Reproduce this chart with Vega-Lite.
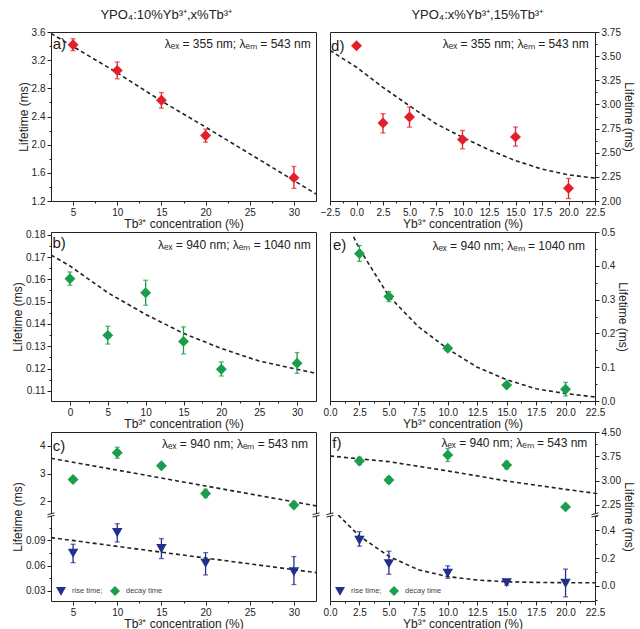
{
"$schema": "https://vega.github.io/schema/vega-lite/v6.json",
"background": "white",
"padding": {"left": 11, "top": 8, "right": 0, "bottom": 0},
"config": {
  "font": "Liberation Sans",
  "view": {"stroke": "#222", "strokeWidth": 1},
  "axis": {"labelFont": "Liberation Sans", "labelFontSize": 10, "labelColor": "#222", "titleFont": "Liberation Sans", "titleFontSize": 12, "titleFontWeight": "normal", "titleColor": "#222", "domainColor": "#222", "tickColor": "#222", "grid": false, "tickSize": 4, "labelPadding": 2, "titlePadding": 1, "labelOverlap": false, "labelFlush": false},
  "title": {"font": "Liberation Sans", "fontSize": 13, "fontWeight": "normal", "color": "#222"},
  "text": {"font": "Liberation Sans", "color": "#222"},
  "legend": {"orient": "bottom-left", "direction": "horizontal", "title": null, "labelFont": "Liberation Sans", "labelFontSize": 7.5, "labelColor": "#444", "symbolSize": 100, "offset": 5, "padding": 0, "columnPadding": 7, "labelOffset": 6, "symbolStrokeWidth": 0}
},
"datasets": {
  "a_pts": [{"x":5,"y":3.42,"lo":3.335,"hi":3.505},{"x":10,"y":3.055,"lo":2.935,"hi":3.175},{"x":15,"y":2.63,"lo":2.52,"hi":2.74},{"x":20,"y":2.13,"lo":2.035,"hi":2.22},{"x":30,"y":1.53,"lo":1.38,"hi":1.69}],
  "a_fit": [{"x":2.5,"y":3.58},{"x":10,"y":3.02},{"x":15,"y":2.62},{"x":20,"y":2.25},{"x":32.5,"y":1.3}],
  "b_pts": [{"x":0,"y":0.1603,"lo":0.1573,"hi":0.1633},{"x":5,"y":0.1349,"lo":0.131,"hi":0.139},{"x":10,"y":0.154,"lo":0.1484,"hi":0.1596},{"x":15,"y":0.1322,"lo":0.1266,"hi":0.1387},{"x":20,"y":0.1197,"lo":0.1167,"hi":0.123},{"x":30,"y":0.1224,"lo":0.1179,"hi":0.1272}],
  "b_fit": [{"x":-2.5,"y":0.1709},{"x":0,"y":0.166},{"x":5,"y":0.154},{"x":10,"y":0.1443},{"x":15,"y":0.1358},{"x":20,"y":0.129},{"x":25,"y":0.1234},{"x":30,"y":0.1197},{"x":32.5,"y":0.1179}],
  "c_dec": [{"x":5,"y":2.78,"lo":2.72,"hi":2.84},{"x":10,"y":3.75,"lo":3.55,"hi":3.95},{"x":15,"y":3.28,"lo":3.18,"hi":3.38},{"x":20,"y":2.28,"lo":2.13,"hi":2.43},{"x":30,"y":1.86,"lo":1.8,"hi":1.92}],
  "c_dec_fit": [{"x":2.5,"y":3.55},{"x":20,"y":2.55},{"x":32.5,"y":1.83}],
  "c_rise": [{"x":5,"y":0.0746,"lo":0.0635,"hi":0.0853,"series":"rise time;"},{"x":10,"y":0.0991,"lo":0.088,"hi":0.1097,"series":"rise time;"},{"x":15,"y":0.0801,"lo":0.0683,"hi":0.092,"series":"rise time;"},{"x":20,"y":0.0628,"lo":0.0489,"hi":0.0754,"series":"rise time;"},{"x":30,"y":0.0525,"lo":0.0375,"hi":0.0707,"series":"rise time;"}],
  "c_rise_fit": [{"x":2.5,"y":0.0932},{"x":32.5,"y":0.0517}],
  "d_pts": [{"x":0,"y":3.607,"lo":3.585,"hi":3.63},{"x":2.5,"y":2.807,"lo":2.705,"hi":2.904},{"x":5,"y":2.869,"lo":2.765,"hi":2.973},{"x":10,"y":2.637,"lo":2.54,"hi":2.73},{"x":15,"y":2.664,"lo":2.568,"hi":2.766},{"x":20,"y":2.132,"lo":2.025,"hi":2.234}],
  "d_fit": [{"x":-2.5,"y":3.559},{"x":0,"y":3.385},{"x":2.5,"y":3.176},{"x":5,"y":2.985},{"x":7.5,"y":2.8},{"x":10,"y":2.66},{"x":12.5,"y":2.53},{"x":15,"y":2.418},{"x":17.5,"y":2.33},{"x":20,"y":2.271},{"x":22.5,"y":2.237}],
  "e_pts": [{"x":2.5,"y":0.436,"lo":0.413,"hi":0.46},{"x":5,"y":0.309,"lo":0.294,"hi":0.324},{"x":10,"y":0.156,"lo":0.148,"hi":0.164},{"x":15,"y":0.047,"lo":0.04,"hi":0.054},{"x":20,"y":0.035,"lo":0.015,"hi":0.055}],
  "e_fit": [{"x":2,"y":0.486},{"x":2.5,"y":0.45},{"x":5,"y":0.31},{"x":7.5,"y":0.22},{"x":10,"y":0.154},{"x":12.5,"y":0.1},{"x":15,"y":0.063},{"x":17.5,"y":0.036},{"x":20,"y":0.022},{"x":22.5,"y":0.012}],
  "f_dec": [{"x":2.5,"y":3.606,"lo":3.49,"hi":3.72},{"x":5,"y":3.02,"lo":2.92,"hi":3.12},{"x":10,"y":3.79,"lo":3.59,"hi":3.99},{"x":15,"y":3.48,"lo":3.36,"hi":3.6},{"x":20,"y":2.19,"lo":2.15,"hi":2.23}],
  "f_dec_fit": [{"x":0,"y":3.76},{"x":5,"y":3.585},{"x":10,"y":3.3},{"x":15,"y":2.99},{"x":20,"y":2.73},{"x":22.5,"y":2.61}],
  "f_rise": [{"x":2.5,"y":0.327,"lo":0.285,"hi":0.39,"series":"rise time;"},{"x":5,"y":0.159,"lo":0.083,"hi":0.249,"series":"rise time;"},{"x":10,"y":0.09,"lo":0.054,"hi":0.144,"series":"rise time;"},{"x":15,"y":0.022,"lo":0.005,"hi":0.045,"series":"rise time;"},{"x":20,"y":0.017,"lo":-0.08,"hi":0.12,"series":"rise time;"}],
  "f_rise_fit": [{"x":0.7,"y":0.51},{"x":2.5,"y":0.358},{"x":5,"y":0.212},{"x":7.5,"y":0.115},{"x":10,"y":0.066},{"x":12.5,"y":0.041},{"x":15,"y":0.029},{"x":17.5,"y":0.024},{"x":20,"y":0.022},{"x":22.5,"y":0.022}]
},
"hconcat": [
 {
  "title": {"text": "YPO₄:10%Yb³⁺,x%Tb³⁺", "anchor": "middle", "offset": 5},
  "spacing": 31, "bounds": "flush",
  "resolve": {"scale": {"color": "independent", "shape": "independent"}, "legend": {"color": "independent", "shape": "independent"}},
  "vconcat": [
   {
    "width": 265, "height": 169,
    "resolve": {"axis": {"x": "independent", "y": "independent"}},
    "layer": [
     {"data": {"name": "a_fit"}, "mark": {"type": "line", "strokeDash": [4, 3], "color": "#222", "strokeWidth": 1.6, "clip": true},
      "encoding": {
       "x": {"field": "x", "type": "quantitative", "scale": {"domain": [2.5, 32.5], "nice": false, "zero": false},
        "axis": {"title": "Tb³⁺ concentration (%)", "format": "d", "values": [5,7.5,10,12.5,15,17.5,20,22.5,25,27.5,30],
         "labelExpr": "abs(datum.value/5 - round(datum.value/5)) > 0.01 ? '' : datum.label",
         "tickSize": {"condition": {"test": "abs(datum.value/5 - round(datum.value/5)) > 0.01", "value": 2}, "value": 4}}},
       "y": {"field": "y", "type": "quantitative", "scale": {"domain": [1.2, 3.6], "nice": false, "zero": false},
        "axis": {"title": "Lifetime (ms)", "format": ".1f", "values": [1.2,1.4,1.6,1.8,2.0,2.2,2.4,2.6,2.8,3.0,3.2,3.4,3.6],
         "labelExpr": "abs((datum.value-1.2)/0.4 - round((datum.value-1.2)/0.4)) > 0.01 ? '' : datum.label",
         "tickSize": {"condition": {"test": "abs((datum.value-1.2)/0.4 - round((datum.value-1.2)/0.4)) > 0.01", "value": 2}, "value": 4}}}
      }},
     {"data": {"name": "a_pts"}, "mark": {"type": "errorbar", "color": "#e3202a", "ticks": true, "size": 5, "thickness": 1.3},
      "encoding": {"x": {"field": "x", "type": "quantitative", "axis": null}, "y": {"field": "lo", "type": "quantitative", "axis": null}, "y2": {"field": "hi"}}},
     {"data": {"name": "a_pts"}, "mark": {"type": "point", "shape": "diamond", "filled": true, "size": 120, "color": "#e3202a", "opacity": 1},
      "encoding": {"x": {"field": "x", "type": "quantitative", "axis": null}, "y": {"field": "y", "type": "quantitative", "axis": null}}},
     {"data": {"values": [{}]}, "mark": {"type": "text", "align": "left", "baseline": "middle", "fontSize": 15},
      "encoding": {"x": {"datum": 2.7, "type": "quantitative", "axis": null}, "y": {"datum": 3.43, "type": "quantitative", "axis": null}, "text": {"value": "a)"}}},
     {"data": {"values": [{}]}, "mark": {"type": "text", "align": "right", "baseline": "middle", "fontSize": 12},
      "encoding": {"x": {"datum": 31.9, "type": "quantitative", "axis": null}, "y": {"datum": 3.43, "type": "quantitative", "axis": null}, "text": {"value": "λₑₓ = 355 nm; λₑₘ = 543 nm"}}}
    ]
   },
   {
    "width": 265, "height": 169,
    "resolve": {"axis": {"x": "independent", "y": "independent"}},
    "layer": [
     {"data": {"name": "b_fit"}, "mark": {"type": "line", "strokeDash": [4, 3], "color": "#222", "strokeWidth": 1.6, "clip": true},
      "encoding": {
       "x": {"field": "x", "type": "quantitative", "scale": {"domain": [-2.5, 32.5], "nice": false, "zero": false},
        "axis": {"title": "Tb³⁺ concentration (%)", "format": "d", "values": [0,2.5,5,7.5,10,12.5,15,17.5,20,22.5,25,27.5,30],
         "labelExpr": "abs(datum.value/5 - round(datum.value/5)) > 0.01 ? '' : datum.label",
         "tickSize": {"condition": {"test": "abs(datum.value/5 - round(datum.value/5)) > 0.01", "value": 2}, "value": 4}}},
       "y": {"field": "y", "type": "quantitative", "scale": {"domain": [0.1055, 0.1812], "nice": false, "zero": false},
        "axis": {"title": "Lifetime (ms)", "format": ".2f", "values": [0.11,0.115,0.12,0.125,0.13,0.135,0.14,0.145,0.15,0.155,0.16,0.165,0.17,0.175,0.18],
         "labelExpr": "abs(datum.value/0.01 - round(datum.value/0.01)) > 0.01 ? '' : datum.label",
         "tickSize": {"condition": {"test": "abs(datum.value/0.01 - round(datum.value/0.01)) > 0.01", "value": 2}, "value": 4}}}
      }},
     {"data": {"name": "b_pts"}, "mark": {"type": "errorbar", "color": "#1b9e4b", "ticks": true, "size": 5, "thickness": 1.3},
      "encoding": {"x": {"field": "x", "type": "quantitative", "axis": null}, "y": {"field": "lo", "type": "quantitative", "axis": null}, "y2": {"field": "hi"}}},
     {"data": {"name": "b_pts"}, "mark": {"type": "point", "shape": "diamond", "filled": true, "size": 120, "color": "#1b9e4b", "opacity": 1},
      "encoding": {"x": {"field": "x", "type": "quantitative", "axis": null}, "y": {"field": "y", "type": "quantitative", "axis": null}}},
     {"data": {"values": [{}]}, "mark": {"type": "text", "align": "left", "baseline": "middle", "fontSize": 15},
      "encoding": {"x": {"datum": -2.3, "type": "quantitative", "axis": null}, "y": {"datum": 0.1762, "type": "quantitative", "axis": null}, "text": {"value": "b)"}}},
     {"data": {"values": [{}]}, "mark": {"type": "text", "align": "right", "baseline": "middle", "fontSize": 12},
      "encoding": {"x": {"datum": 31.8, "type": "quantitative", "axis": null}, "y": {"datum": 0.1755, "type": "quantitative", "axis": null}, "text": {"value": "λₑₓ = 940 nm; λₑₘ = 1040 nm"}}}
    ]
   },
   {
    "spacing": 0, "bounds": "flush",
    "resolve": {"scale": {"color": "independent", "shape": "independent"}, "legend": {"color": "independent", "shape": "independent"}},
    "vconcat": [
     {
      "width": 265, "height": 83,
      "view": {"stroke": null},
      "resolve": {"axis": {"x": "independent", "y": "independent"}},
      "layer": [
       {"data": {"name": "c_dec_fit"}, "mark": {"type": "line", "strokeDash": [4, 3], "color": "#222", "strokeWidth": 1.6, "clip": true},
        "encoding": {
         "x": {"field": "x", "type": "quantitative", "scale": {"domain": [2.5, 32.5], "nice": false, "zero": false},
          "axis": {"orient": "top", "labels": false, "ticks": false, "domain": true, "title": null}},
         "y": {"field": "y", "type": "quantitative", "scale": {"domain": [1.5, 4.5], "nice": false, "zero": false},
          "axis": {"title": "Lifetime (ms)", "titleY": 84.5, "titlePadding": 14.5, "format": "d", "values": [2,2.5,3,3.5,4],
           "labelExpr": "abs(datum.value - round(datum.value)) > 0.01 ? '' : datum.label",
           "tickSize": {"condition": {"test": "abs(datum.value - round(datum.value)) > 0.01", "value": 2}, "value": 4}}}
        }},
       {"data": {"name": "c_dec"}, "mark": {"type": "errorbar", "color": "#1b9e4b", "ticks": true, "size": 5, "thickness": 1.3},
        "encoding": {"x": {"field": "x", "type": "quantitative", "axis": null}, "y": {"field": "lo", "type": "quantitative", "axis": {"orient": "right", "labels": false, "ticks": false, "domain": true, "title": null}}, "y2": {"field": "hi"}}},
       {"data": {"name": "c_dec"}, "mark": {"type": "point", "shape": "diamond", "filled": true, "size": 120, "color": "#1b9e4b", "opacity": 1},
        "encoding": {"x": {"field": "x", "type": "quantitative", "axis": null}, "y": {"field": "y", "type": "quantitative", "axis": null}}},
       {"data": {"values": [{}]}, "mark": {"type": "text", "align": "left", "baseline": "middle", "fontSize": 15},
        "encoding": {"x": {"datum": 2.7, "type": "quantitative", "axis": null}, "y": {"datum": 4.0, "type": "quantitative", "axis": null}, "text": {"value": "c)"}}},
       {"data": {"values": [{}]}, "mark": {"type": "text", "align": "right", "baseline": "middle", "fontSize": 12},
        "encoding": {"x": {"datum": 31.6, "type": "quantitative", "axis": null}, "y": {"datum": 4.08, "type": "quantitative", "axis": null}, "text": {"value": "λₑₓ = 940 nm; λₑₘ = 543 nm"}}}
      ]
     },
     {
      "width": 265, "height": 86,
      "view": {"stroke": null},
      "resolve": {"axis": {"x": "independent", "y": "independent"}},
      "layer": [
       {"data": {"name": "c_rise_fit"}, "mark": {"type": "line", "strokeDash": [4, 3], "color": "#222", "strokeWidth": 1.6, "clip": true},
        "encoding": {
         "x": {"field": "x", "type": "quantitative", "scale": {"domain": [2.5, 32.5], "nice": false, "zero": false},
          "axis": {"title": "Tb³⁺ concentration (%)", "format": "d", "values": [5,7.5,10,12.5,15,17.5,20,22.5,25,27.5,30],
           "labelExpr": "abs(datum.value/5 - round(datum.value/5)) > 0.01 ? '' : datum.label",
           "tickSize": {"condition": {"test": "abs(datum.value/5 - round(datum.value/5)) > 0.01", "value": 2}, "value": 4}}},
         "y": {"field": "y", "type": "quantitative", "scale": {"domain": [0.018, 0.12], "nice": false, "zero": false},
          "axis": {"title": null, "format": ".2f", "values": [0.03,0.045,0.06,0.075,0.09,0.105],
           "labelExpr": "abs(datum.value/0.03 - round(datum.value/0.03)) > 0.01 ? '' : datum.label",
           "tickSize": {"condition": {"test": "abs(datum.value/0.03 - round(datum.value/0.03)) > 0.01", "value": 2}, "value": 4}}}
        }},
       {"data": {"name": "c_rise"}, "mark": {"type": "errorbar", "color": "#22308c", "ticks": true, "size": 5, "thickness": 1.3},
        "encoding": {"x": {"field": "x", "type": "quantitative", "axis": null}, "y": {"field": "lo", "type": "quantitative", "axis": {"orient": "right", "labels": false, "ticks": false, "domain": true, "title": null}}, "y2": {"field": "hi"}}},
       {"data": {"name": "c_rise"}, "mark": {"type": "point", "filled": true, "size": 110, "opacity": 1},
        "encoding": {"x": {"field": "x", "type": "quantitative", "axis": null}, "y": {"field": "y", "type": "quantitative", "axis": null},
         "color": {"field": "series", "type": "nominal", "scale": {"domain": ["rise time;", "decay time"], "range": ["#22308c", "#1b9e4b"]}},
         "shape": {"field": "series", "type": "nominal", "scale": {"domain": ["rise time;", "decay time"], "range": ["triangle-down", "diamond"]}}}},
       {"data": {"values": [{}]}, "mark": {"type": "point", "shape": "M-1,-0.1L1,-0.6L1,0.1L-1,0.6Z", "filled": true, "size": 49, "color": "white", "opacity": 1},
        "encoding": {"x": {"datum": 2.5, "type": "quantitative", "axis": null}, "y": {"datum": 0.12, "type": "quantitative", "axis": null}}},
       {"data": {"values": [{}]}, "mark": {"type": "point", "shape": "M-1,-0.1L1,-0.6L1,0.1L-1,0.6Z", "filled": true, "size": 49, "color": "white", "opacity": 1},
        "encoding": {"x": {"datum": 32.5, "type": "quantitative", "axis": null}, "y": {"datum": 0.12, "type": "quantitative", "axis": null}}},
       {"data": {"values": [{}]}, "mark": {"type": "point", "shape": "M-1,-0.1L1,-0.6M-1,0.6L1,0.1", "filled": false, "size": 49, "color": "#222", "strokeWidth": 1, "opacity": 1},
        "encoding": {"x": {"datum": 2.5, "type": "quantitative", "axis": null}, "y": {"datum": 0.12, "type": "quantitative", "axis": null}}},
       {"data": {"values": [{}]}, "mark": {"type": "point", "shape": "M-1,-0.1L1,-0.6M-1,0.6L1,0.1", "filled": false, "size": 49, "color": "#222", "strokeWidth": 1, "opacity": 1},
        "encoding": {"x": {"datum": 32.5, "type": "quantitative", "axis": null}, "y": {"datum": 0.12, "type": "quantitative", "axis": null}}}
      ]
     }
    ]
   }
  ]
 },
 {
  "title": {"text": "YPO₄:x%Yb³⁺,15%Tb³⁺", "anchor": "middle", "offset": 5},
  "spacing": 31, "bounds": "flush",
  "resolve": {"scale": {"color": "independent", "shape": "independent"}, "legend": {"color": "independent", "shape": "independent"}},
  "vconcat": [
   {
    "width": 265, "height": 169,
    "resolve": {"axis": {"x": "independent", "y": "independent"}},
    "layer": [
     {"data": {"name": "d_fit"}, "mark": {"type": "line", "strokeDash": [4, 3], "color": "#222", "strokeWidth": 1.6, "clip": true},
      "encoding": {
       "x": {"field": "x", "type": "quantitative", "scale": {"domain": [-2.5, 22.5], "nice": false, "zero": false},
        "axis": {"title": "Yb³⁺ concentration (%)", "format": ".1f", "values": [-2.5,-1.25,0,1.25,2.5,3.75,5,6.25,7.5,8.75,10,11.25,12.5,13.75,15,16.25,17.5,18.75,20,21.25,22.5],
         "labelExpr": "abs(datum.value/2.5 - round(datum.value/2.5)) > 0.01 ? '' : datum.label",
         "tickSize": {"condition": {"test": "abs(datum.value/2.5 - round(datum.value/2.5)) > 0.01", "value": 2}, "value": 4}}},
       "y": {"field": "y", "type": "quantitative", "scale": {"domain": [2.0, 3.75], "nice": false, "zero": false},
        "axis": {"orient": "right", "title": "Lifetime (ms)", "format": ".2f", "values": [2,2.125,2.25,2.375,2.5,2.625,2.75,2.875,3,3.125,3.25,3.375,3.5,3.625,3.75],
         "labelExpr": "abs(datum.value/0.25 - round(datum.value/0.25)) > 0.01 ? '' : datum.label",
         "tickSize": {"condition": {"test": "abs(datum.value/0.25 - round(datum.value/0.25)) > 0.01", "value": 2}, "value": 4}}}
      }},
     {"data": {"name": "d_pts"}, "mark": {"type": "errorbar", "color": "#e3202a", "ticks": true, "size": 5, "thickness": 1.3},
      "encoding": {"x": {"field": "x", "type": "quantitative", "axis": null}, "y": {"field": "lo", "type": "quantitative", "axis": null}, "y2": {"field": "hi"}}},
     {"data": {"name": "d_pts"}, "mark": {"type": "point", "shape": "diamond", "filled": true, "size": 120, "color": "#e3202a", "opacity": 1},
      "encoding": {"x": {"field": "x", "type": "quantitative", "axis": null}, "y": {"field": "y", "type": "quantitative", "axis": null}}},
     {"data": {"values": [{}]}, "mark": {"type": "text", "align": "left", "baseline": "middle", "fontSize": 15},
      "encoding": {"x": {"datum": -2.4, "type": "quantitative", "axis": null}, "y": {"datum": 3.61, "type": "quantitative", "axis": null}, "text": {"value": "d)"}}},
     {"data": {"values": [{}]}, "mark": {"type": "text", "align": "right", "baseline": "middle", "fontSize": 12},
      "encoding": {"x": {"datum": 21.9, "type": "quantitative", "axis": null}, "y": {"datum": 3.625, "type": "quantitative", "axis": null}, "text": {"value": "λₑₓ = 355 nm; λₑₘ = 543 nm"}}}
    ]
   },
   {
    "width": 265, "height": 169,
    "resolve": {"axis": {"x": "independent", "y": "independent"}},
    "layer": [
     {"data": {"name": "e_fit"}, "mark": {"type": "line", "strokeDash": [4, 3], "color": "#222", "strokeWidth": 1.6, "clip": true},
      "encoding": {
       "x": {"field": "x", "type": "quantitative", "scale": {"domain": [0, 22.5], "nice": false, "zero": false},
        "axis": {"title": "Yb³⁺ concentration (%)", "format": ".1f", "values": [0,1.25,2.5,3.75,5,6.25,7.5,8.75,10,11.25,12.5,13.75,15,16.25,17.5,18.75,20,21.25,22.5],
         "labelExpr": "abs(datum.value/2.5 - round(datum.value/2.5)) > 0.01 ? '' : datum.label",
         "tickSize": {"condition": {"test": "abs(datum.value/2.5 - round(datum.value/2.5)) > 0.01", "value": 2}, "value": 4}}},
       "y": {"field": "y", "type": "quantitative", "scale": {"domain": [0, 0.5], "nice": false, "zero": false},
        "axis": {"orient": "right", "title": "Lifetime (ms)", "format": ".1f", "values": [0,0.05,0.1,0.15,0.2,0.25,0.3,0.35,0.4,0.45,0.5],
         "labelExpr": "abs(datum.value/0.1 - round(datum.value/0.1)) > 0.01 ? '' : datum.label",
         "tickSize": {"condition": {"test": "abs(datum.value/0.1 - round(datum.value/0.1)) > 0.01", "value": 2}, "value": 4}}}
      }},
     {"data": {"name": "e_pts"}, "mark": {"type": "errorbar", "color": "#1b9e4b", "ticks": true, "size": 5, "thickness": 1.3},
      "encoding": {"x": {"field": "x", "type": "quantitative", "axis": null}, "y": {"field": "lo", "type": "quantitative", "axis": null}, "y2": {"field": "hi"}}},
     {"data": {"name": "e_pts"}, "mark": {"type": "point", "shape": "diamond", "filled": true, "size": 120, "color": "#1b9e4b", "opacity": 1},
      "encoding": {"x": {"field": "x", "type": "quantitative", "axis": null}, "y": {"field": "y", "type": "quantitative", "axis": null}}},
     {"data": {"values": [{}]}, "mark": {"type": "text", "align": "left", "baseline": "middle", "fontSize": 15},
      "encoding": {"x": {"datum": 0.25, "type": "quantitative", "axis": null}, "y": {"datum": 0.463, "type": "quantitative", "axis": null}, "text": {"value": "e)"}}},
     {"data": {"values": [{}]}, "mark": {"type": "text", "align": "right", "baseline": "middle", "fontSize": 12},
      "encoding": {"x": {"datum": 21.65, "type": "quantitative", "axis": null}, "y": {"datum": 0.46, "type": "quantitative", "axis": null}, "text": {"value": "λₑₓ = 940 nm; λₑₘ = 1040 nm"}}}
    ]
   },
   {
    "spacing": 0, "bounds": "flush",
    "resolve": {"scale": {"color": "independent", "shape": "independent"}, "legend": {"color": "independent", "shape": "independent"}},
    "vconcat": [
     {
      "width": 265, "height": 83,
      "view": {"stroke": null},
      "resolve": {"axis": {"x": "independent", "y": "independent"}},
      "layer": [
       {"data": {"name": "f_dec_fit"}, "mark": {"type": "line", "strokeDash": [4, 3], "color": "#222", "strokeWidth": 1.6, "clip": true},
        "encoding": {
         "x": {"field": "x", "type": "quantitative", "scale": {"domain": [0, 22.5], "nice": false, "zero": false},
          "axis": {"orient": "top", "labels": false, "ticks": false, "domain": true, "title": null}},
         "y": {"field": "y", "type": "quantitative", "scale": {"domain": [1.94, 4.5], "nice": false, "zero": false},
          "axis": {"orient": "right", "title": "Lifetime (ms)", "titleY": 84.5, "format": ".2f", "values": [2.25,2.625,3,3.375,3.75,4.125,4.5],
           "labelExpr": "abs((datum.value-2.25)/0.75 - round((datum.value-2.25)/0.75)) > 0.01 ? '' : datum.label",
           "tickSize": {"condition": {"test": "abs((datum.value-2.25)/0.75 - round((datum.value-2.25)/0.75)) > 0.01", "value": 2}, "value": 4}}}
        }},
       {"data": {"name": "f_dec"}, "mark": {"type": "errorbar", "color": "#1b9e4b", "ticks": true, "size": 5, "thickness": 1.3},
        "encoding": {"x": {"field": "x", "type": "quantitative", "axis": null}, "y": {"field": "lo", "type": "quantitative", "axis": {"orient": "left", "labels": false, "ticks": false, "domain": true, "title": null}}, "y2": {"field": "hi"}}},
       {"data": {"name": "f_dec"}, "mark": {"type": "point", "shape": "diamond", "filled": true, "size": 120, "color": "#1b9e4b", "opacity": 1},
        "encoding": {"x": {"field": "x", "type": "quantitative", "axis": null}, "y": {"field": "y", "type": "quantitative", "axis": null}}},
       {"data": {"values": [{}]}, "mark": {"type": "text", "align": "left", "baseline": "middle", "fontSize": 15},
        "encoding": {"x": {"datum": 0.2, "type": "quantitative", "axis": null}, "y": {"datum": 4.17, "type": "quantitative", "axis": null}, "text": {"value": "f)"}}},
       {"data": {"values": [{}]}, "mark": {"type": "text", "align": "right", "baseline": "middle", "fontSize": 12},
        "encoding": {"x": {"datum": 21.85, "type": "quantitative", "axis": null}, "y": {"datum": 4.17, "type": "quantitative", "axis": null}, "text": {"value": "λₑₓ = 940 nm; λₑₘ = 543 nm"}}}
      ]
     },
     {
      "width": 265, "height": 86,
      "view": {"stroke": null},
      "resolve": {"axis": {"x": "independent", "y": "independent"}},
      "layer": [
       {"data": {"name": "f_rise_fit"}, "mark": {"type": "line", "strokeDash": [4, 3], "color": "#222", "strokeWidth": 1.6, "clip": true},
        "encoding": {
         "x": {"field": "x", "type": "quantitative", "scale": {"domain": [0, 22.5], "nice": false, "zero": false},
          "axis": {"title": "Yb³⁺ concentration (%)", "format": ".1f", "values": [0,1.25,2.5,3.75,5,6.25,7.5,8.75,10,11.25,12.5,13.75,15,16.25,17.5,18.75,20,21.25,22.5],
           "labelExpr": "abs(datum.value/2.5 - round(datum.value/2.5)) > 0.01 ? '' : datum.label",
           "tickSize": {"condition": {"test": "abs(datum.value/2.5 - round(datum.value/2.5)) > 0.01", "value": 2}, "value": 4}}},
         "y": {"field": "y", "type": "quantitative", "scale": {"domain": [-0.11, 0.51], "nice": false, "zero": false},
          "axis": {"orient": "right", "title": null, "format": ".1f", "values": [-0.1,0,0.1,0.2,0.3,0.4,0.5],
           "labelExpr": "abs(datum.value/0.2 - round(datum.value/0.2)) > 0.01 ? '' : datum.label",
           "tickSize": {"condition": {"test": "abs(datum.value/0.2 - round(datum.value/0.2)) > 0.01", "value": 2}, "value": 4}}}
        }},
       {"data": {"name": "f_rise"}, "mark": {"type": "errorbar", "color": "#22308c", "ticks": true, "size": 5, "thickness": 1.3},
        "encoding": {"x": {"field": "x", "type": "quantitative", "axis": null}, "y": {"field": "lo", "type": "quantitative", "axis": {"orient": "left", "labels": false, "ticks": false, "domain": true, "title": null}}, "y2": {"field": "hi"}}},
       {"data": {"name": "f_rise"}, "mark": {"type": "point", "filled": true, "size": 110, "opacity": 1},
        "encoding": {"x": {"field": "x", "type": "quantitative", "axis": null}, "y": {"field": "y", "type": "quantitative", "axis": null},
         "color": {"field": "series", "type": "nominal", "scale": {"domain": ["rise time;", "decay time"], "range": ["#22308c", "#1b9e4b"]}},
         "shape": {"field": "series", "type": "nominal", "scale": {"domain": ["rise time;", "decay time"], "range": ["triangle-down", "diamond"]}}}},
       {"data": {"values": [{}]}, "mark": {"type": "point", "shape": "M-1,-0.1L1,-0.6L1,0.1L-1,0.6Z", "filled": true, "size": 49, "color": "white", "opacity": 1},
        "encoding": {"x": {"datum": 0, "type": "quantitative", "axis": null}, "y": {"datum": 0.51, "type": "quantitative", "axis": null}}},
       {"data": {"values": [{}]}, "mark": {"type": "point", "shape": "M-1,-0.1L1,-0.6L1,0.1L-1,0.6Z", "filled": true, "size": 49, "color": "white", "opacity": 1},
        "encoding": {"x": {"datum": 22.5, "type": "quantitative", "axis": null}, "y": {"datum": 0.51, "type": "quantitative", "axis": null}}},
       {"data": {"values": [{}]}, "mark": {"type": "point", "shape": "M-1,-0.1L1,-0.6M-1,0.6L1,0.1", "filled": false, "size": 49, "color": "#222", "strokeWidth": 1, "opacity": 1},
        "encoding": {"x": {"datum": 0, "type": "quantitative", "axis": null}, "y": {"datum": 0.51, "type": "quantitative", "axis": null}}},
       {"data": {"values": [{}]}, "mark": {"type": "point", "shape": "M-1,-0.1L1,-0.6M-1,0.6L1,0.1", "filled": false, "size": 49, "color": "#222", "strokeWidth": 1, "opacity": 1},
        "encoding": {"x": {"datum": 22.5, "type": "quantitative", "axis": null}, "y": {"datum": 0.51, "type": "quantitative", "axis": null}}}
      ]
     }
    ]
   }
  ]
 }
],
"spacing": -3,
"resolve": {"scale": {"color": "independent", "shape": "independent"}, "legend": {"color": "independent", "shape": "independent"}}
}
